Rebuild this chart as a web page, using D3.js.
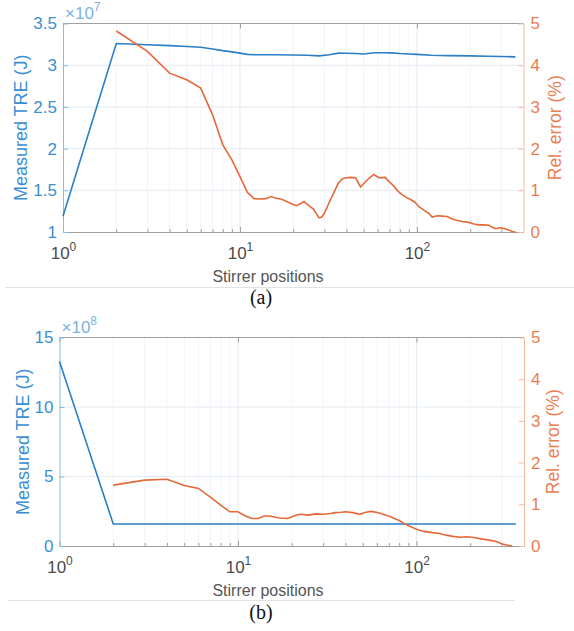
<!DOCTYPE html>
<html>
<head>
<meta charset="utf-8">
<script src="https://cdn.jsdelivr.net/npm/d3@7"></script>
<style>
  body { margin: 0; background: #fff; }
  svg { display: block; font-family: "Liberation Sans", Arial, sans-serif; }
</style>
</head>
<body>
<script>
// ---- data ----
// panel (a): measured TRE, x 1e7 J
var aTreX = [1, 2, 3, 4, 5, 6, 7, 8, 9, 10, 11, 12, 14, 16, 20, 24, 28, 32, 36, 40, 45, 50, 58, 65, 72, 80, 90, 100, 120, 150, 200, 250, 300, 360];
var aTre  = [1.19, 3.26, 3.245, 3.235, 3.225, 3.215, 3.195, 3.175, 3.16, 3.145, 3.13, 3.125, 3.125, 3.125, 3.122, 3.12, 3.112, 3.125, 3.145, 3.143, 3.14, 3.135, 3.15, 3.15, 3.148, 3.14, 3.135, 3.13, 3.12, 3.115, 3.112, 3.108, 3.105, 3.10];
// panel (a): rel. error, %
var aErrX = [2, 3, 4, 5, 6, 7, 8, 9, 10, 11, 12, 13, 14, 15, 16, 17, 18, 19, 20, 21, 23, 24, 26, 28, 29, 30, 32, 34, 36, 38, 40, 42, 45, 48, 51, 54, 57, 61, 66, 70, 74, 78, 82, 87, 92, 97, 103, 110, 117, 122, 130, 139, 148, 157, 165, 180, 196, 210, 223, 240, 255, 265, 278, 295, 316, 330, 344, 360];
var aErr  = [4.82, 4.33, 3.81, 3.65, 3.45, 2.81, 2.09, 1.73, 1.33, 0.95, 0.80, 0.79, 0.80, 0.85, 0.81, 0.79, 0.75, 0.70, 0.66, 0.63, 0.73, 0.66, 0.55, 0.34, 0.36, 0.45, 0.72, 0.95, 1.18, 1.28, 1.30, 1.31, 1.30, 1.08, 1.20, 1.30, 1.38, 1.30, 1.31, 1.20, 1.10, 0.98, 0.90, 0.83, 0.78, 0.72, 0.60, 0.52, 0.44, 0.36, 0.39, 0.38, 0.37, 0.32, 0.29, 0.25, 0.23, 0.19, 0.17, 0.17, 0.16, 0.12, 0.08, 0.10, 0.08, 0.05, 0.01, 0.0];

// panel (b): measured TRE, x 1e8 J
var bTreX = [1, 2, 10, 100, 360];
var bTre  = [13.27, 1.59, 1.58, 1.58, 1.58];
// panel (b): rel. error, %
var bErrX = [2, 3, 4, 5, 6, 7, 8, 9, 10, 11, 12, 13, 14, 15, 17, 19, 20, 22, 25, 27, 30, 33, 35, 38, 40, 44, 48, 52, 56, 62, 66, 70, 75, 80, 86, 93, 100, 110, 123, 135, 146, 160, 177, 190, 205, 230, 255, 280, 302, 325, 344];
var bErr  = [1.46, 1.58, 1.60, 1.45, 1.38, 1.17, 0.98, 0.82, 0.82, 0.72, 0.66, 0.66, 0.72, 0.72, 0.67, 0.66, 0.70, 0.76, 0.74, 0.77, 0.76, 0.78, 0.80, 0.81, 0.82, 0.80, 0.76, 0.81, 0.83, 0.79, 0.75, 0.72, 0.66, 0.61, 0.53, 0.46, 0.40, 0.35, 0.32, 0.30, 0.26, 0.23, 0.21, 0.22, 0.21, 0.17, 0.14, 0.11, 0.05, 0.02, 0.0];

// tick labels
var xMajor = [1, 10, 100];
var xMinor = [2, 3, 4, 5, 6, 7, 8, 9, 20, 30, 40, 50, 60, 70, 80, 90, 200, 300];
var aLeftTicks = [1, 1.5, 2, 2.5, 3, 3.5];
var bLeftTicks = [0, 5, 10, 15];
var rightTicks = [0, 1, 2, 3, 4, 5];

var blue = "#2a7fc6", blueText = "#3a8fd4", blueAxis = "#86bbe4";
var orange = "#e3693a", orangeText = "#ec7d50", orangeAxis = "#f5b79b";
var grayAxis = "#a0a0a0", gridCol = "#e3eaf1";

var svg = d3.select("body").append("svg")
    .attr("width", 574)
    .attr("height", 631);

function panel(cfg) {
  var x = d3.scaleLog().domain([1, 400]).range([cfg.left, cfg.right]);
  var yL = d3.scaleLinear().domain(cfg.leftDomain).range([cfg.bottom, cfg.top]);
  var yR = d3.scaleLinear().domain([0, 5]).range([cfg.bottom, cfg.top]);
  var g = svg.append("g");

  // grid
  g.selectAll(".vg").data(xMajor.concat(xMinor).filter(function(d) { return d > 1; }))
    .enter().append("line")
    .attr("x1", function(d) { return x(d); }).attr("x2", function(d) { return x(d); })
    .attr("y1", cfg.top).attr("y2", cfg.bottom)
    .attr("stroke", gridCol).attr("stroke-width", 1)
    .attr("stroke-dasharray", function(d) { return xMajor.indexOf(d) >= 0 ? null : "1,1"; });
  g.selectAll(".hg").data(cfg.leftTicks.slice(1, -1))
    .enter().append("line")
    .attr("x1", cfg.left).attr("x2", cfg.right)
    .attr("y1", function(d) { return yL(d); }).attr("y2", function(d) { return yL(d); })
    .attr("stroke", gridCol).attr("stroke-width", 1);

  // box top
  g.append("line").attr("x1", cfg.left).attr("x2", cfg.right)
    .attr("y1", cfg.top).attr("y2", cfg.top).attr("stroke", grayAxis);

  // x axis (bottom) with inward ticks
  var xAxis = d3.axisBottom(x).tickValues(xMajor).tickSizeInner(-5).tickSizeOuter(0).tickFormat("");
  var xg = g.append("g").attr("transform", "translate(0," + cfg.bottom + ")").call(xAxis);
  xg.append("g").call(d3.axisBottom(x).tickValues(xMinor).tickSizeInner(-3).tickSizeOuter(0).tickFormat(""));
  xg.selectAll("path,line").attr("stroke", grayAxis);
  xg.selectAll(".tick").filter(function(d) { return xMajor.indexOf(d) >= 0; })
    .append("text")
    .attr("y", 27).attr("fill", "#4a4a4a").attr("font-size", 17)
    .attr("text-anchor", "middle")
    .each(function(d) {
      var t = d3.select(this);
      t.append("tspan").text("10");
      t.append("tspan").attr("font-size", 12).attr("dy", -8).text(Math.round(Math.log10(d)));
    });
  // top ticks
  g.append("g").attr("transform", "translate(0," + cfg.top + ")")
    .call(d3.axisTop(x).tickValues(xMajor).tickSizeInner(-5).tickSizeOuter(0).tickFormat(""))
    .call(function(s) { s.select(".domain").remove(); s.selectAll("line").attr("stroke", grayAxis); });

  // left axis
  var lg = g.append("g").attr("transform", "translate(" + cfg.left + ",0)")
    .call(d3.axisLeft(yL).tickValues(cfg.leftTicks).tickSizeInner(-5).tickSizeOuter(0).tickPadding(6)
      .tickFormat(function(d) { return String(d); }));
  lg.selectAll("path,line").attr("stroke", blueAxis);
  lg.selectAll("text").attr("fill", blueText).attr("font-size", 17).attr("font-family", null);

  // right axis
  var rg = g.append("g").attr("transform", "translate(" + cfg.right + ",0)")
    .call(d3.axisRight(yR).tickValues(rightTicks).tickSizeInner(-5).tickSizeOuter(0).tickPadding(7)
      .tickFormat(function(d) { return String(d); }));
  rg.selectAll("path,line").attr("stroke", orangeAxis);
  rg.selectAll("text").attr("fill", orangeText).attr("font-size", 17).attr("font-family", null);

  // exponent label
  var ex = g.append("text").attr("x", cfg.left + 2).attr("y", cfg.top - 5)
    .attr("fill", "#7ab3e0").attr("font-size", 17);
  ex.append("tspan").text("\u00d710");
  ex.append("tspan").attr("font-size", 12).attr("dy", -8).text(cfg.exp);

  // lines
  var treLine = d3.line().x(function(d) { return x(d[0]); }).y(function(d) { return yL(d[1]); });
  var errLine = d3.line().x(function(d) { return x(d[0]); }).y(function(d) { return yR(d[1]); });
  g.append("path").attr("d", treLine(d3.zip(cfg.treX, cfg.tre)))
    .attr("fill", "none").attr("stroke", blue).attr("stroke-width", 1.6);
  g.append("path").attr("d", errLine(d3.zip(cfg.errX, cfg.err)))
    .attr("fill", "none").attr("stroke", orange).attr("stroke-width", 1.6);

  // axis titles
  var cy = (cfg.top + cfg.bottom) / 2;
  g.append("text").attr("transform", "translate(" + cfg.labelL + "," + cy + ") rotate(-90)")
    .attr("text-anchor", "middle").attr("dy", "0.35em").attr("font-size", 18)
    .attr("fill", blueText).text("Measured TRE (J)");
  g.append("text").attr("transform", "translate(" + cfg.labelR + "," + cy + ") rotate(-90)")
    .attr("text-anchor", "middle").attr("dy", "0.35em").attr("font-size", 17.5)
    .attr("fill", orangeText).text("Rel. error (%)");
  g.append("text").attr("x", 268).attr("y", cfg.bottom + 50)
    .attr("text-anchor", "middle").attr("font-size", 16).attr("fill", "#555")
    .text("Stirrer positions");

  // separator and caption
  g.append("line").attr("x1", cfg.sepX1).attr("x2", cfg.sepX2)
    .attr("y1", cfg.sepY).attr("y2", cfg.sepY).attr("stroke", "#e2e2e2");
  g.append("text").attr("x", 261).attr("y", cfg.capY)
    .attr("text-anchor", "middle").attr("font-family", "'Liberation Serif', 'Times New Roman', serif")
    .attr("font-size", 20).attr("fill", "#111").text(cfg.caption);
}

panel({
  left: 63, right: 523.5, top: 23.5, bottom: 232,
  leftDomain: [1, 3.5], leftTicks: aLeftTicks, exp: "7",
  treX: aTreX, tre: aTre, errX: aErrX, err: aErr,
  labelL: 21, labelR: 555,
  sepX1: 5, sepX2: 574, sepY: 287.5, capY: 304, caption: "(a)"
});

panel({
  left: 59.5, right: 524, top: 337.5, bottom: 546,
  leftDomain: [0, 15], leftTicks: bLeftTicks, exp: "8",
  treX: bTreX, tre: bTre, errX: bErrX, err: bErr,
  labelL: 23, labelR: 553,
  sepX1: 8, sepX2: 515, sepY: 600.5, capY: 619, caption: "(b)"
});
</script>
</body>
</html>
